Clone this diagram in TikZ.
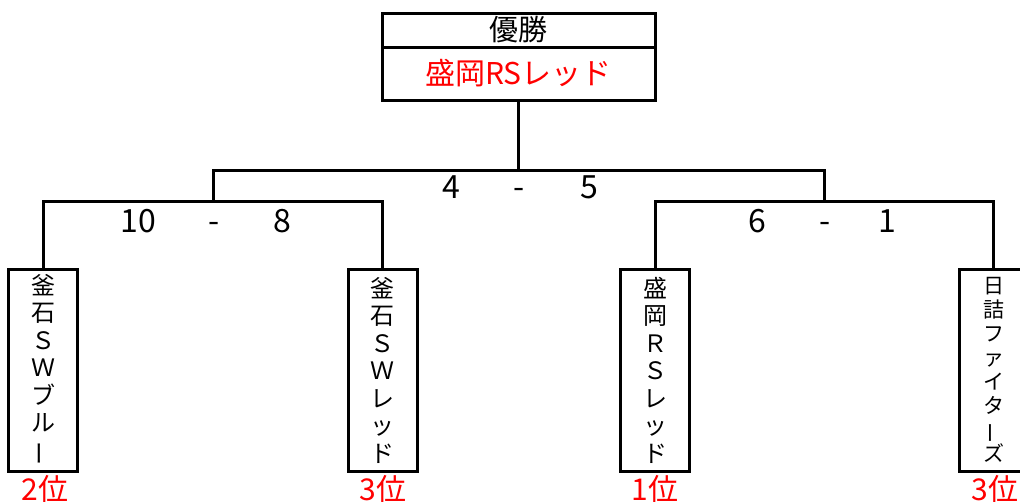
\documentclass[tikz,border=0pt]{standalone}
\usepackage{fontspec}
\usepackage{graphicx}
\setmainfont{Noto Sans CJK JP}
\newcommand{\vbar}{\rotatebox[origin=c]{90}{ー}}
\tikzset{
  line/.style={line width=3pt},
  boxline/.style={draw, line width=3pt, inner sep=0pt, outer sep=0pt},
  team/.style={boxline, minimum width=69pt, minimum height=202pt, align=center, font=\fontsize{24}{27.5}\selectfont},
  score/.style={inner sep=0pt, anchor=base, font=\fontsize{32}{32}\selectfont},
  rank/.style={inner sep=0pt, text=red, font=\fontsize{30}{30}\selectfont},
}
\begin{document}
\begin{tikzpicture}[x=1pt,y=-1pt]
\useasboundingbox (0,0) rectangle (1020,501);
% champion box
\node[boxline, minimum width=273pt, minimum height=34pt, font=\fontsize{29}{29}\selectfont] (title) at (518.5,30) {優勝};
\node[boxline, minimum width=273pt, minimum height=53pt, text=red, font=\fontsize{30}{30}\selectfont, anchor=north] (winner) at (title.south) {盛岡RSレッド};
% team boxes
\node[team] (t1) at (43,370) {釜\\石\\Ｓ\\Ｗ\\ブ\\ル\\\vbar};
\node[team] (t2) at (382.5,370) {釜\\石\\Ｓ\\Ｗ\\レ\\ッ\\ド};
\node[team] (t3) at (655,370) {盛\\岡\\Ｒ\\Ｓ\\レ\\ッ\\ド};
\node[team, font=\fontsize{21}{24}\selectfont] (t4) at (993.5,370) {日\\詰\\フ\\ァ\\イ\\タ\\\vbar\\ズ};
% joints
\coordinate (j1) at (213,201);
\coordinate (j2) at (824,201);
\coordinate (jf) at (518.5,170);
% connectors
\draw[line] (t1.north) |- (j1) -| (t2.north);
\draw[line] (t3.north) |- (j2) -| (t4.north);
\draw[line] (j1) |- (jf) -| (j2);
\draw[line] (jf) -- (winner.south);
% scores
\node[score] (s1a) at (138,232) {10};
\node[score] (s1d) at (214,232) {-};
\node[score] (s1b) at (282,232) {8};
\node[score] (s2a) at (451,198) {4};
\node[score] (s2d) at (519,198) {-};
\node[score] (s2b) at (589,198) {5};
\node[score] (s3a) at (757,232) {6};
\node[score] (s3d) at (825,232) {-};
\node[score] (s3b) at (887,232) {1};
% ranks
\node[rank] (r1) at (45,489) {2位};
\node[rank] (r2) at (383,489) {3位};
\node[rank] (r3) at (655,489) {1位};
\node[rank] (r4) at (995,489) {3位};
\end{tikzpicture}
\end{document}
